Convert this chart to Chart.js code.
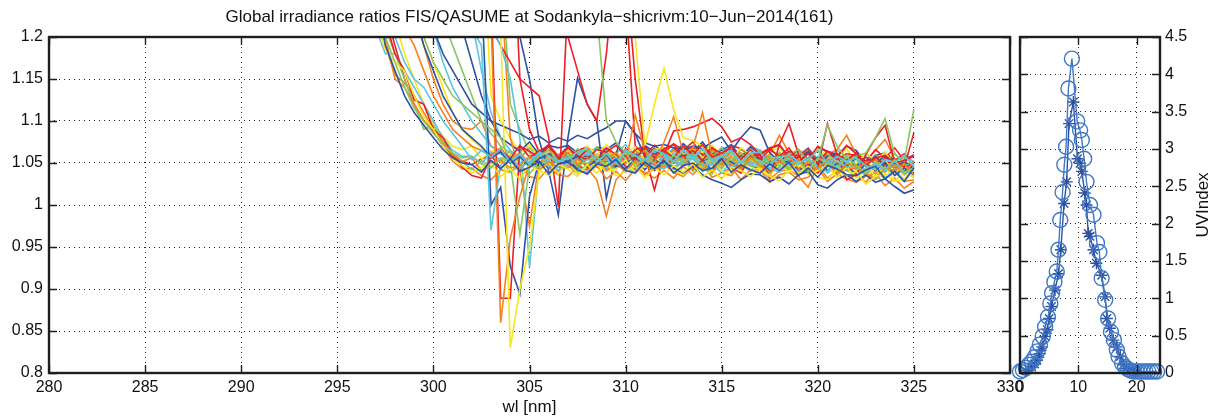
<!DOCTYPE html>
<html lang="en">
<head>
  <meta charset="UTF-8" />
  <title>Global irradiance ratios FIS/QASUME</title>
  <script src="https://cdn.jsdelivr.net/npm/chart.js"></script>
  <style>
    body { margin: 0; background: #fff; overflow: hidden; }
    #wrap { position: relative; width: 1216px; height: 419px; }
    #ratioChart { position: absolute; left: 0; top: 0; }
    #uvChart { position: absolute; left: 1000px; top: 0; }
  </style>
</head>
<body>
<div id="wrap">
  <canvas id="ratioChart" width="1216" height="419"></canvas>
  <canvas id="uvChart" width="216" height="419"></canvas>
</div>

<script>
  // wavelengths [nm], 297..325 every 0.5
  const wl = [297, 297.5, 298, 298.5, 299, 299.5, 300, 300.5, 301, 301.5,
    302, 302.5, 303, 303.5, 304, 304.5, 305, 305.5, 306, 306.5,
    307, 307.5, 308, 308.5, 309, 309.5, 310, 310.5, 311, 311.5,
    312, 312.5, 313, 313.5, 314, 314.5, 315, 315.5, 316, 316.5,
    317, 317.5, 318, 318.5, 319, 319.5, 320, 320.5, 321, 321.5,
    322, 322.5, 323, 323.5, 324, 324.5, 325];

  const xTicks = [280, 285, 290, 295, 300, 305, 310, 315, 320, 325, 330];
  const yTicks = [0.8, 0.85, 0.9, 0.95, 1, 1.05, 1.1, 1.15, 1.2];

  // FIS/QASUME ratio per scan (values above 1.2 are off the plot)
  const scan00 = [1.26, 1.19, 1.16, 1.13, 1.11, 1.095, 1.08, 1.066, 1.056, 1.050,
    1.048, 1.039, 1.053, 1.043, 1.055, 1.040, 1.045, 1.052, 1.037, 1.049,
    1.051, 1.042, 1.037, 1.049, 1.046, 1.054, 1.041, 1.038, 1.051, 1.043,
    1.053, 1.038, 1.047, 1.050, 1.041, 1.044, 1.055, 1.039, 1.048, 1.042,
    1.038, 1.049, 1.041, 1.051, 1.035, 1.044, 1.033, 1.047, 1.043, 1.036,
    1.035, 1.042, 1.046, 1.031, 1.040, 1.028, 1.044];
  const scan01 = [1.30, 1.24, 1.20, 1.17, 1.15, 1.14, 1.12, 1.10, 1.085, 1.07,
    1.054, 1.065, 1.057, 1.067, 1.051, 1.060, 1.049, 1.063, 1.059, 1.052,
    1.056, 1.063, 1.067, 1.052, 1.061, 1.049, 1.065, 1.059, 1.053, 1.066,
    1.061, 1.052, 1.066, 1.056, 1.068, 1.053, 1.058, 1.065, 1.050, 1.062,
    1.063, 1.048, 1.057, 1.060, 1.051, 1.054, 1.065, 1.049, 1.058, 1.052,
    1.056, 1.047, 1.042, 1.054, 1.051, 1.059, 1.046];
  const scan02 = [1.23, 1.20, 1.17, 1.14, 1.115, 1.10, 1.085, 1.072, 1.062, 1.056,
    1.058, 1.049, 1.044, 1.056, 1.053, 1.061, 1.048, 1.045, 1.058, 1.050,
    1.060, 1.045, 1.054, 1.057, 1.048, 1.051, 1.062, 1.046, 1.055, 1.049,
    1.048, 1.059, 1.051, 1.061, 1.045, 1.054, 1.043, 1.057, 1.053, 1.046,
    1.047, 1.054, 1.058, 1.043, 1.052, 1.040, 1.056, 1.050, 1.044, 1.057,
    1.047, 1.038, 1.052, 1.042, 1.054, 1.039, 1.044];
  const scan03 = [1.22, 1.185, 1.17, 1.16, 1.13, 1.105, 1.09, 1.07, 1.055, 1.047,
    1.038, 1.045, 1.049, 1.034, 1.043, 1.031, 1.047, 1.041, 1.035, 1.048,
    1.043, 1.034, 1.048, 1.038, 1.050, 1.035, 1.040, 1.047, 1.032, 1.044,
    1.036, 1.047, 1.039, 1.049, 1.033, 1.042, 1.031, 1.045, 1.041, 1.034,
    1.043, 1.034, 1.029, 1.041, 1.038, 1.046, 1.033, 1.030, 1.043, 1.035,
    1.040, 1.025, 1.034, 1.037, 1.028, 1.031, 1.042];
  const scan04 = [1.28, 1.20, 1.15, 1.14, 1.12, 1.10, 1.09, 1.075, 1.06, 1.052,
    1.056, 1.041, 1.050, 1.053, 1.044, 1.047, 1.058, 1.042, 1.051, 1.045,
    1.044, 1.055, 1.047, 1.057, 1.041, 1.050, 1.039, 1.053, 1.049, 1.042,
    1.046, 1.053, 1.057, 1.042, 1.051, 1.039, 1.055, 1.049, 1.043, 1.056,
    1.048, 1.039, 1.053, 1.043, 1.055, 1.040, 1.045, 1.052, 1.037, 1.049,
    1.046, 1.037, 1.032, 1.044, 1.041, 1.049, 1.036];
  const scan05 = [1.32, 1.22, 1.18, 1.16, 1.125, 1.12, 1.09, 1.08, 1.06, 1.045,
    1.035, 1.032, 1.058, 1.066, 1.055, 1.071, 1.057, 1.064, 1.070, 1.056,
    1.068, 1.059, 1.054, 1.066, 1.063, 1.071, 1.058, 1.055, 1.068, 1.060,
    1.065, 1.056, 1.070, 1.060, 1.072, 1.057, 1.062, 1.069, 1.054, 1.066,
    1.055, 1.066, 1.058, 1.068, 1.052, 1.061, 1.050, 1.064, 1.060, 1.053,
    1.062, 1.047, 1.056, 1.059, 1.050, 1.053, 1.060];
  const scan06 = [1.45, 1.38, 1.32, 1.27, 1.23, 1.19, 1.16, 1.13, 1.11, 1.09,
    1.08, 1.07, 1.056, 1.063, 1.050, 1.058, 1.046, 1.055, 1.061, 1.049,
    1.052, 1.058, 1.045, 1.054, 1.060, 1.047, 1.043, 1.055, 1.048, 1.041,
    1.051, 1.044, 1.038, 1.046, 1.036, 1.030, 1.026, 1.021, 1.030, 1.037,
    1.036, 1.028, 1.033, 1.025, 1.036, 1.040, 1.024, 1.020, 1.030, 1.036,
    1.028, 1.036, 1.027, 1.031, 1.022, 1.014, 1.018];
  const scan07 = [1.50, 1.45, 1.40, 1.36, 1.33, 1.30, 1.27, 1.25, 1.24, 1.22,
    1.21, 1.19, 0.970, 1.048, 1.058, 1.044, 1.052, 1.061, 1.045, 1.053,
    1.046, 1.057, 1.049, 1.059, 1.043, 1.052, 1.041, 1.055, 1.051, 1.044,
    1.058, 1.043, 1.052, 1.055, 1.046, 1.049, 1.060, 1.044, 1.053, 1.047,
    1.053, 1.044, 1.039, 1.051, 1.048, 1.056, 1.043, 1.040, 1.053, 1.045,
    1.045, 1.036, 1.050, 1.040, 1.052, 1.037, 1.042];
  const scan08 = [1.45, 1.38, 1.30, 1.25, 1.22, 1.20, 1.17, 1.15, 1.13, 1.12,
    1.11, 1.10, 1.09, 1.08, 1.05, 0.965, 1.045, 1.058, 1.066, 1.052,
    1.055, 1.062, 1.066, 1.051, 1.060, 1.048, 1.064, 1.058, 1.052, 1.065,
    1.060, 1.051, 1.065, 1.055, 1.067, 1.052, 1.057, 1.064, 1.049, 1.061,
    1.050, 1.059, 1.046, 1.060, 1.066, 1.052, 1.053, 1.095, 1.070, 1.055,
    1.058, 1.062, 1.080, 1.103, 1.060, 1.052, 1.114];
  const scan09 = [1.55, 1.50, 1.46, 1.42, 1.40, 1.37, 1.34, 1.31, 1.29, 1.27,
    1.25, 1.23, 1.22, 1.21, 0.830, 0.900, 0.950, 1.040, 1.050, 1.037,
    1.052, 1.037, 1.046, 1.049, 1.040, 1.043, 1.054, 1.038, 1.047, 1.041,
    1.050, 1.041, 1.036, 1.048, 1.045, 1.053, 1.040, 1.037, 1.050, 1.042,
    1.044, 1.035, 1.049, 1.039, 1.051, 1.036, 1.041, 1.048, 1.033, 1.045,
    1.032, 1.043, 1.035, 1.045, 1.029, 1.038, 1.033];
  const scan10 = [1.60, 1.55, 1.50, 1.46, 1.42, 1.38, 1.35, 1.32, 1.30, 1.28,
    1.26, 1.24, 1.22, 0.860, 0.960, 1.010, 1.050, 1.060, 1.047, 1.058,
    1.062, 1.048, 1.057, 1.045, 1.056, 1.062, 1.049, 1.107, 1.064, 1.050,
    1.075, 1.105, 1.062, 1.068, 1.110, 1.058, 1.047, 1.058, 1.046, 1.057,
    1.046, 1.057, 1.049, 1.059, 1.043, 1.052, 1.041, 1.055, 1.051, 1.044,
    1.043, 1.050, 1.054, 1.039, 1.048, 1.036, 1.052];
  const scan11 = [1.70, 1.62, 1.56, 1.50, 1.46, 1.42, 1.39, 1.36, 1.33, 1.31,
    1.29, 1.27, 1.25, 0.889, 0.889, 1.070, 1.064, 1.056, 1.070, 1.058,
    1.069, 1.055, 1.066, 1.053, 1.068, 1.060, 1.052, 1.066, 1.070, 1.056,
    1.067, 1.072, 1.057, 1.065, 1.053, 1.068, 1.061, 1.045, 1.038, 1.058,
    1.060, 1.032, 1.072, 1.097, 1.060, 1.040, 1.045, 1.097, 1.060, 1.030,
    1.036, 1.060, 1.080, 1.095, 1.050, 1.045, 1.086];
  const scan12 = [1.65, 1.58, 1.52, 1.47, 1.43, 1.40, 1.37, 1.34, 1.31, 1.29,
    1.27, 1.25, 1.000, 1.021, 0.927, 0.894, 1.010, 1.052, 1.044, 1.055,
    1.053, 1.044, 1.058, 1.048, 1.060, 1.045, 1.050, 1.057, 1.042, 1.054,
    1.048, 1.055, 1.059, 1.044, 1.053, 1.041, 1.057, 1.051, 1.045, 1.058,
    1.055, 1.040, 1.049, 1.052, 1.043, 1.046, 1.057, 1.041, 1.050, 1.044,
    1.038, 1.049, 1.041, 1.051, 1.035, 1.044, 1.036];
  const scan13 = [1.58, 1.52, 1.47, 1.43, 1.40, 1.37, 1.34, 1.31, 1.29, 1.27,
    1.25, 1.23, 1.21, 1.19, 1.15, 1.08, 0.926, 1.045, 1.054, 1.041,
    1.053, 1.044, 1.039, 1.051, 1.048, 1.056, 1.043, 1.040, 1.053, 1.045,
    1.043, 1.054, 1.046, 1.056, 1.040, 1.049, 1.038, 1.052, 1.048, 1.041,
    1.052, 1.037, 1.046, 1.049, 1.040, 1.043, 1.054, 1.038, 1.047, 1.041,
    1.037, 1.044, 1.048, 1.033, 1.042, 1.030, 1.046];
  const scan14 = [1.80, 1.75, 1.70, 1.66, 1.62, 1.58, 1.55, 1.52, 1.49, 1.46,
    1.44, 1.42, 1.40, 1.38, 1.36, 1.34, 1.32, 1.30, 1.29, 1.27,
    1.26, 1.25, 1.24, 1.23, 1.100, 1.075, 1.062, 1.054, 1.066, 1.052,
    1.066, 1.051, 1.060, 1.063, 1.054, 1.057, 1.068, 1.052, 1.061, 1.055,
    1.058, 1.049, 1.063, 1.053, 1.065, 1.050, 1.055, 1.062, 1.047, 1.059,
    1.056, 1.047, 1.042, 1.054, 1.051, 1.059, 1.046];
  const scan15 = [1.90, 1.85, 1.80, 1.76, 1.72, 1.68, 1.65, 1.62, 1.59, 1.56,
    1.54, 1.52, 1.50, 1.48, 1.46, 1.44, 1.42, 1.40, 1.38, 1.36,
    1.35, 1.34, 1.33, 1.32, 1.31, 1.30, 1.29, 1.200, 1.070, 1.120,
    1.163, 1.113, 1.080, 1.077, 1.070, 1.058, 1.046, 1.058, 1.044, 1.055,
    1.047, 1.054, 1.058, 1.043, 1.052, 1.040, 1.056, 1.050, 1.044, 1.057,
    1.040, 1.051, 1.043, 1.053, 1.037, 1.046, 1.035];
  const scan16 = [1.38, 1.30, 1.25, 1.21, 1.19, 1.16, 1.13, 1.11, 1.09, 1.08,
    1.07, 1.065, 1.06, 1.068, 1.055, 1.062, 1.05, 1.058, 1.046, 1.040,
    1.048, 1.037, 1.044, 1.030, 0.987, 1.030, 1.043, 1.051, 1.036, 1.046,
    1.048, 1.039, 1.034, 1.046, 1.043, 1.051, 1.038, 1.035, 1.048, 1.040,
    1.046, 1.031, 1.040, 1.043, 1.034, 1.021, 1.048, 1.032, 1.041, 1.035,
    1.036, 1.027, 1.041, 1.031, 1.043, 1.028, 1.030];
  const scan17 = [1.62, 1.56, 1.50, 1.46, 1.42, 1.38, 1.35, 1.32, 1.29, 1.27,
    1.25, 1.23, 1.21, 1.19, 1.17, 1.15, 1.14, 1.13, 1.08, 0.998,
    1.25, 1.30, 1.32, 1.33, 1.34, 1.32, 1.28, 1.15, 1.060, 1.018,
    1.060, 1.088, 1.090, 1.093, 1.098, 1.103, 1.093, 1.075, 1.080, 1.072,
    1.060, 1.068, 1.056, 1.064, 1.058, 1.067, 1.052, 1.062, 1.054, 1.061,
    1.059, 1.050, 1.057, 1.048, 1.055, 1.044, 1.050];
  const scan18 = [1.50, 1.42, 1.36, 1.31, 1.27, 1.24, 1.21, 1.18, 1.16, 1.14,
    1.12, 1.11, 1.10, 1.095, 1.09, 1.085, 1.078, 1.082, 1.074, 1.08,
    1.076, 1.083, 1.079, 1.086, 1.092, 1.10, 1.10, 1.085, 1.074, 1.070,
    1.072, 1.068, 1.066, 1.070, 1.067, 1.075, 1.081, 1.064, 1.080, 1.093,
    1.089, 1.062, 1.052, 1.060, 1.050, 1.063, 1.048, 1.058, 1.061, 1.046,
    1.056, 1.047, 1.058, 1.045, 1.050, 1.040, 1.047];
  const scan19 = [1.21, 1.18, 1.18, 1.16, 1.14, 1.12, 1.10, 1.08, 1.065, 1.058,
    1.058, 1.049, 1.063, 1.053, 1.065, 1.050, 1.055, 1.062, 1.047, 1.059,
    1.053, 1.060, 1.064, 1.049, 1.058, 1.046, 1.062, 1.056, 1.050, 1.063,
    1.051, 1.062, 1.054, 1.064, 1.048, 1.057, 1.046, 1.060, 1.056, 1.049,
    1.058, 1.049, 1.044, 1.056, 1.053, 1.061, 1.048, 1.045, 1.058, 1.050,
    1.055, 1.040, 1.049, 1.052, 1.043, 1.046, 1.050];
  const scan20 = [1.25, 1.21, 1.18, 1.15, 1.12, 1.09, 1.095, 1.075, 1.062, 1.052,
    1.042, 1.053, 1.045, 1.055, 1.039, 1.048, 1.037, 1.051, 1.047, 1.040,
    1.054, 1.039, 1.048, 1.051, 1.042, 1.045, 1.056, 1.040, 1.049, 1.043,
    1.044, 1.051, 1.055, 1.040, 1.049, 1.037, 1.053, 1.047, 1.041, 1.054,
    1.046, 1.037, 1.051, 1.041, 1.053, 1.038, 1.043, 1.050, 1.035, 1.047,
    1.044, 1.035, 1.030, 1.042, 1.039, 1.047, 1.034];
  const scan21 = [1.35, 1.27, 1.22, 1.18, 1.15, 1.12, 1.095, 1.082, 1.07, 1.066,
    1.070, 1.055, 1.064, 1.067, 1.058, 1.061, 1.072, 1.056, 1.065, 1.059,
    1.065, 1.056, 1.070, 1.060, 1.072, 1.057, 1.062, 1.069, 1.054, 1.066,
    1.068, 1.059, 1.054, 1.066, 1.063, 1.071, 1.058, 1.055, 1.068, 1.060,
    1.057, 1.064, 1.068, 1.053, 1.062, 1.050, 1.066, 1.060, 1.054, 1.067,
    1.050, 1.061, 1.053, 1.063, 1.047, 1.056, 1.049];
  const scan22 = [1.24, 1.19, 1.155, 1.145, 1.13, 1.11, 1.09, 1.07, 1.052, 1.043,
    1.044, 1.035, 1.030, 1.042, 1.039, 1.047, 1.034, 1.031, 1.044, 1.036,
    1.034, 1.045, 1.037, 1.047, 1.031, 1.040, 1.029, 1.043, 1.039, 1.032,
    1.041, 1.032, 1.046, 1.036, 1.048, 1.033, 1.038, 1.045, 1.030, 1.042,
    1.042, 1.027, 1.036, 1.039, 1.030, 1.033, 1.044, 1.028, 1.037, 1.031,
    1.027, 1.034, 1.038, 1.023, 1.032, 1.020, 1.028];
  const scan23 = [1.75, 1.70, 1.65, 1.60, 1.56, 1.52, 1.48, 1.45, 1.42, 1.40,
    1.38, 1.36, 1.34, 1.32, 1.30, 1.28, 1.26, 1.24, 1.22, 1.21,
    1.20, 1.16, 1.12, 1.100, 1.180, 1.300, 1.250, 1.070, 1.060, 1.071,
    1.062, 1.073, 1.065, 1.075, 1.059, 1.068, 1.057, 1.071, 1.067, 1.060,
    1.061, 1.068, 1.072, 1.057, 1.066, 1.054, 1.070, 1.064, 1.058, 1.071,
    1.061, 1.052, 1.066, 1.056, 1.068, 1.053, 1.058];
  const scan24 = [1.68, 1.62, 1.57, 1.52, 1.48, 1.44, 1.41, 1.38, 1.35, 1.32,
    1.30, 1.28, 1.26, 1.24, 1.22, 1.20, 1.15, 1.077, 1.04, 0.988,
    1.08, 1.151, 1.12, 1.10, 1.008, 1.06, 1.10, 1.085, 1.057, 1.062,
    1.065, 1.050, 1.059, 1.062, 1.053, 1.056, 1.067, 1.051, 1.060, 1.054,
    1.061, 1.052, 1.047, 1.059, 1.056, 1.064, 1.051, 1.048, 1.061, 1.053,
    1.046, 1.057, 1.049, 1.059, 1.043, 1.052, 1.044];
  const scan25 = [1.50, 1.44, 1.38, 1.33, 1.28, 1.25, 1.21, 1.17, 1.14, 1.12,
    1.10, 1.085, 1.07, 1.061, 1.050, 1.057, 1.046, 1.059, 1.052, 1.045,
    1.050, 1.057, 1.061, 1.046, 1.055, 1.043, 1.059, 1.053, 1.047, 1.060,
    1.060, 1.045, 1.054, 1.057, 1.048, 1.051, 1.062, 1.046, 1.055, 1.049,
    1.052, 1.043, 1.057, 1.047, 1.059, 1.044, 1.049, 1.056, 1.041, 1.053,
    1.050, 1.041, 1.036, 1.048, 1.045, 1.053, 1.040];
  const scan26 = [1.55, 1.48, 1.42, 1.37, 1.32, 1.28, 1.25, 1.22, 1.19, 1.16,
    1.13, 1.10, 1.085, 1.07, 1.062, 1.055, 1.068, 1.057, 1.064, 1.052,
    1.056, 1.067, 1.059, 1.069, 1.053, 1.062, 1.051, 1.065, 1.061, 1.054,
    1.066, 1.057, 1.052, 1.064, 1.061, 1.069, 1.056, 1.053, 1.066, 1.058,
    1.065, 1.050, 1.059, 1.062, 1.053, 1.056, 1.067, 1.051, 1.060, 1.054,
    1.055, 1.046, 1.060, 1.050, 1.062, 1.047, 1.052];
  const scan27 = [1.44, 1.37, 1.31, 1.27, 1.23, 1.20, 1.17, 1.14, 1.11, 1.09,
    1.078, 1.068, 1.062, 1.051, 1.060, 1.048, 1.056, 1.063, 1.050, 1.058,
    1.061, 1.052, 1.047, 1.059, 1.056, 1.064, 1.051, 1.048, 1.061, 1.053,
    1.053, 1.060, 1.064, 1.049, 1.058, 1.046, 1.062, 1.056, 1.050, 1.063,
    1.048, 1.059, 1.051, 1.061, 1.045, 1.054, 1.043, 1.057, 1.053, 1.046,
    1.055, 1.040, 1.049, 1.052, 1.043, 1.046, 1.048];
  const scan28 = [1.72, 1.66, 1.60, 1.55, 1.51, 1.47, 1.44, 1.41, 1.38, 1.35,
    1.33, 1.31, 1.29, 1.27, 1.08, 1.04, 0.975, 1.05, 1.060, 1.056,
    1.061, 1.052, 1.066, 1.056, 1.068, 1.053, 1.058, 1.065, 1.050, 1.062,
    1.054, 1.065, 1.057, 1.067, 1.051, 1.060, 1.049, 1.063, 1.059, 1.052,
    1.055, 1.060, 1.083, 1.062, 1.052, 1.064, 1.050, 1.060, 1.066, 1.083,
    1.060, 1.052, 1.065, 1.078, 1.055, 1.044, 1.050];
  const scan29 = [1.29, 1.23, 1.19, 1.15, 1.12, 1.10, 1.088, 1.07, 1.058, 1.052,
    1.048, 1.055, 1.059, 1.044, 1.053, 1.041, 1.057, 1.051, 1.045, 1.058,
    1.056, 1.047, 1.042, 1.054, 1.051, 1.059, 1.046, 1.043, 1.056, 1.048,
    1.058, 1.043, 1.052, 1.055, 1.046, 1.049, 1.060, 1.044, 1.053, 1.047,
    1.043, 1.054, 1.046, 1.056, 1.040, 1.049, 1.038, 1.052, 1.048, 1.041,
    1.045, 1.036, 1.050, 1.040, 1.052, 1.037, 1.042];
  const scan30 = [1.60, 1.52, 1.46, 1.41, 1.37, 1.33, 1.30, 1.27, 1.24, 1.21,
    1.17, 1.13, 1.10, 1.08, 1.072, 1.064, 1.075, 1.060, 1.071, 1.068,
    1.071, 1.062, 1.057, 1.069, 1.066, 1.074, 1.061, 1.058, 1.071, 1.063,
    1.068, 1.059, 1.073, 1.063, 1.075, 1.060, 1.065, 1.072, 1.057, 1.069,
    1.060, 1.067, 1.071, 1.056, 1.065, 1.053, 1.069, 1.063, 1.057, 1.070,
    1.065, 1.050, 1.059, 1.062, 1.053, 1.056, 1.058];
  const scan31 = [1.70, 1.64, 1.58, 1.53, 1.48, 1.44, 1.40, 1.36, 1.32, 1.28,
    1.22, 1.16, 1.11, 1.08, 1.065, 1.056, 1.068, 1.060, 1.070, 1.058,
    1.070, 1.055, 1.064, 1.067, 1.058, 1.061, 1.072, 1.056, 1.065, 1.059,
    1.060, 1.067, 1.071, 1.056, 1.065, 1.053, 1.069, 1.063, 1.057, 1.070,
    1.065, 1.056, 1.051, 1.063, 1.060, 1.068, 1.055, 1.052, 1.065, 1.057,
    1.050, 1.061, 1.053, 1.063, 1.047, 1.056, 1.052];
  const scan32 = [1.85, 1.80, 1.75, 1.70, 1.66, 1.62, 1.58, 1.55, 1.52, 1.49,
    1.46, 1.43, 1.40, 1.30, 1.12, 1.09, 1.062, 1.048, 1.060, 1.050,
    1.057, 1.048, 1.062, 1.052, 1.064, 1.049, 1.054, 1.061, 1.046, 1.058,
    1.060, 1.051, 1.046, 1.058, 1.055, 1.063, 1.050, 1.047, 1.060, 1.052,
    1.047, 1.058, 1.050, 1.060, 1.044, 1.053, 1.042, 1.056, 1.052, 1.045,
    1.044, 1.051, 1.055, 1.040, 1.049, 1.037, 1.045];
  const scan33 = [1.78, 1.72, 1.67, 1.62, 1.58, 1.54, 1.50, 1.47, 1.44, 1.41,
    1.38, 1.35, 1.13, 1.10, 1.08, 1.062, 1.045, 1.057, 1.049, 1.056,
    1.046, 1.057, 1.049, 1.059, 1.043, 1.052, 1.041, 1.055, 1.051, 1.044,
    1.048, 1.055, 1.059, 1.044, 1.053, 1.041, 1.057, 1.051, 1.045, 1.058,
    1.050, 1.041, 1.055, 1.045, 1.057, 1.042, 1.047, 1.054, 1.039, 1.051,
    1.050, 1.035, 1.044, 1.047, 1.038, 1.041, 1.043];
  const scan34 = [1.45, 1.38, 1.32, 1.27, 1.23, 1.19, 1.15, 1.12, 1.10, 1.092,
    1.09, 1.10, 1.07, 1.064, 1.052, 1.061, 1.049, 1.066, 1.054, 1.060,
    1.064, 1.049, 1.058, 1.061, 1.052, 1.055, 1.066, 1.050, 1.059, 1.053,
    1.062, 1.053, 1.048, 1.060, 1.057, 1.065, 1.052, 1.049, 1.062, 1.054,
    1.056, 1.047, 1.061, 1.051, 1.063, 1.048, 1.053, 1.060, 1.045, 1.057,
    1.046, 1.053, 1.057, 1.042, 1.051, 1.039, 1.050];
  const scan35 = [1.95, 1.90, 1.85, 1.80, 1.75, 1.70, 1.66, 1.62, 1.58, 1.55,
    1.52, 1.49, 1.46, 1.43, 1.40, 1.15, 1.09, 1.063, 1.072, 1.058,
    1.058, 1.065, 1.069, 1.054, 1.063, 1.051, 1.067, 1.061, 1.055, 1.068,
    1.056, 1.067, 1.059, 1.069, 1.053, 1.062, 1.051, 1.065, 1.061, 1.054,
    1.065, 1.050, 1.059, 1.062, 1.053, 1.056, 1.067, 1.051, 1.060, 1.054,
    1.058, 1.049, 1.044, 1.056, 1.053, 1.061, 1.050];

  const scans = [scan00, scan01, scan02, scan03, scan04, scan05, scan06, scan07, scan08, scan09,
    scan10, scan11, scan12, scan13, scan14, scan15, scan16, scan17, scan18, scan19,
    scan20, scan21, scan22, scan23, scan24, scan25, scan26, scan27, scan28, scan29,
    scan30, scan31, scan32, scan33, scan34, scan35];

  // colour cycle used for the scans
  const scanColors = ['#2f52a4', '#5ec4e0', '#8cc663', '#f6e81c', '#f6821f', '#ec1f26'];

  // UV index during the day (right panel)
  const uvHourO = [0.0, 0.5, 1.0, 1.5, 2.0, 2.5, 3.0, 3.4, 3.9, 4.3,
    4.8, 5.2, 5.5, 5.9, 6.3, 6.6, 6.9, 7.3, 7.6, 7.9,
    8.3, 8.9, 9.8, 10.3, 10.6, 11.0, 11.4, 12.0, 12.6, 13.2,
    13.6, 14.0, 14.6, 15.1, 15.6, 16.1, 16.6, 16.9, 17.5, 18.0,
    18.5, 19.0, 19.5, 20.0, 20.5, 21.0, 21.5, 22.0, 22.5, 23.0, 23.5];
  const uvO = [0.02, 0.04, 0.07, 0.11, 0.15, 0.21, 0.29, 0.38, 0.49, 0.62,
    0.75, 0.93, 1.07, 1.22, 1.36, 1.65, 2.05, 2.42, 2.79, 3.03,
    3.81, 4.21, 3.37, 3.25, 3.12, 2.87, 2.56, 2.25, 2.12, 1.74,
    1.62, 1.27, 0.98, 0.73, 0.55, 0.44, 0.31, 0.22, 0.13, 0.08,
    0.05, 0.03, 0.02, 0.02, 0.02, 0.02, 0.02, 0.02, 0.02, 0.02, 0.02];
  const uvHourS = [1.0, 1.5, 2.0, 2.5, 2.9, 3.4, 3.8, 4.3, 4.7, 5.0,
    5.4, 6.0, 6.6, 7.0, 7.55, 8.0, 8.4, 9.15, 9.85, 10.3,
    10.6, 11.1, 11.4, 11.7, 12.0, 12.6, 13.1, 14.0, 14.6, 14.9,
    15.4, 16.0, 16.6, 17.2, 17.7, 18.3, 18.8, 19.3, 19.8, 20.2];
  const uvS = [0.03, 0.05, 0.08, 0.12, 0.17, 0.26, 0.35, 0.49, 0.58, 0.73,
    0.89, 1.11, 1.33, 1.65, 2.27, 2.56, 3.34, 3.63, 2.87, 2.81,
    2.70, 2.41, 2.25, 1.87, 1.83, 1.65, 1.47, 1.31, 1.02, 0.73,
    0.60, 0.44, 0.35, 0.22, 0.11, 0.06, 0.04, 0.03, 0.02, 0.02];
  const uvXTicks = [0, 10, 20];
  const uvYTicks = [0, 0.5, 1, 1.5, 2, 2.5, 3, 3.5, 4, 4.5];

  const FONT = "'Liberation Sans', Arial, Helvetica, sans-serif";
  Chart.defaults.font.family = FONT;
  Chart.defaults.color = '#111';

  const fmt = v => String(Math.round(v * 100) / 100);

  // matlab style box with inward ticks
  const boxPlugin = {
    id: 'box',
    afterDraw(chart) {
      const { ctx, chartArea: a, scales } = chart;
      ctx.save();
      ctx.strokeStyle = '#1e1e1e';
      ctx.lineWidth = 1.4;
      ctx.beginPath();
      scales.x.ticks.forEach(t => {
        const p = Math.round(scales.x.getPixelForValue(t.value)) + 0.5;
        ctx.moveTo(p, a.bottom); ctx.lineTo(p, a.bottom - 8);
        ctx.moveTo(p, a.top); ctx.lineTo(p, a.top + 8);
      });
      scales.y.ticks.forEach(t => {
        const p = Math.round(scales.y.getPixelForValue(t.value)) + 0.5;
        ctx.moveTo(a.left, p); ctx.lineTo(a.left + 8, p);
        ctx.moveTo(a.right, p); ctx.lineTo(a.right - 8, p);
      });
      ctx.stroke();
      ctx.lineWidth = 2.4;
      ctx.strokeRect(a.left, a.top, a.right - a.left, a.bottom - a.top);
      ctx.restore();
    }
  };

  const gridOpts = { color: '#222', lineWidth: 1, drawTicks: false };
  const borderOpts = { display: false, dash: [1, 4] };

  const ratioSets = scans.map((s, k) => ({
    data: s.map((v, i) => ({ x: wl[i], y: v })),
    borderColor: scanColors[k % scanColors.length],
    borderWidth: 1.6,
    pointRadius: 0,
    fill: false,
    tension: 0
  }));

  new Chart(document.getElementById('ratioChart'), {
    type: 'line',
    data: { datasets: ratioSets },
    options: {
      responsive: false,
      animation: false,
      events: [],
      layout: { padding: { left: 0, right: 206, top: 0, bottom: 0 } },
      plugins: {
        legend: { display: false },
        tooltip: { enabled: false },
        title: {
          display: true,
          fullSize: false,
          text: 'Global irradiance ratios FIS/QASUME at Sodankyla\u2212shicrivm:10\u2212Jun\u22122014(161)',
          color: '#111',
          font: { size: 17, weight: 'normal', lineHeight: 1.2 },
          padding: { top: 7, bottom: 9.6 }
        }
      },
      scales: {
        x: {
          type: 'linear', min: 280, max: 330,
          afterBuildTicks: s => { s.ticks = xTicks.map(v => ({ value: v })); },
          afterFit: s => { s.height = 46; },
          ticks: { font: { size: 16 }, color: '#111', padding: 5, maxRotation: 0, callback: fmt },
          grid: gridOpts, border: borderOpts,
          title: { display: true, text: 'wl [nm]', color: '#111', font: { size: 17 }, padding: { top: 0, bottom: 1 } }
        },
        y: {
          min: 0.8, max: 1.2,
          afterBuildTicks: s => { s.ticks = yTicks.map(v => ({ value: v })); },
          afterFit: s => { s.width = 49; },
          ticks: { font: { size: 16 }, color: '#111', padding: 6, callback: fmt },
          grid: gridOpts, border: borderOpts
        }
      }
    },
    plugins: [boxPlugin]
  });

  // rotated y label of the right panel
  const uvLabel = {
    id: 'uvLabel',
    afterDraw(chart) {
      const { ctx, chartArea: a } = chart;
      ctx.save();
      ctx.translate(203, (a.top + a.bottom) / 2);
      ctx.rotate(-Math.PI / 2);
      ctx.font = '17px ' + FONT;
      ctx.fillStyle = '#111';
      ctx.textAlign = 'center';
      ctx.textBaseline = 'middle';
      ctx.fillText('UVIndex', 0, 0);
      ctx.restore();
    }
  };

  new Chart(document.getElementById('uvChart'), {
    type: 'line',
    data: {
      datasets: [
        {
          data: uvHourO.map((h, i) => ({ x: h, y: uvO[i] })),
          borderColor: '#3f78c6', backgroundColor: 'rgba(0,0,0,0)',
          borderWidth: 1.4, pointStyle: 'circle', pointRadius: 7.5,
          pointBorderWidth: 1.4, pointBorderColor: '#3f78c6', clip: false
        },
        {
          data: uvHourS.map((h, i) => ({ x: h, y: uvS[i] })),
          borderColor: '#2d519f', backgroundColor: 'rgba(0,0,0,0)',
          borderWidth: 1.4, pointStyle: 'star', pointRadius: 6,
          pointBorderWidth: 1.4, pointBorderColor: '#2d519f', clip: false
        }
      ]
    },
    options: {
      responsive: false,
      animation: false,
      events: [],
      layout: { padding: { left: 20, right: 0, top: 37, bottom: 0 } },
      plugins: { legend: { display: false }, tooltip: { enabled: false } },
      scales: {
        x: {
          type: 'linear', min: 0, max: 24,
          afterBuildTicks: s => { s.ticks = uvXTicks.map(v => ({ value: v })); },
          afterFit: s => { s.height = 46; },
          ticks: { font: { size: 16 }, color: '#111', padding: 5, maxRotation: 0, callback: fmt },
          grid: gridOpts, border: borderOpts
        },
        y: {
          position: 'right', min: 0, max: 4.5,
          afterBuildTicks: s => { s.ticks = uvYTicks.map(v => ({ value: v })); },
          afterFit: s => { s.width = 56; },
          ticks: { font: { size: 16 }, color: '#111', padding: 5, callback: fmt },
          grid: gridOpts, border: borderOpts
        }
      }
    },
    plugins: [boxPlugin, uvLabel]
  });
</script>
</body>
</html>
